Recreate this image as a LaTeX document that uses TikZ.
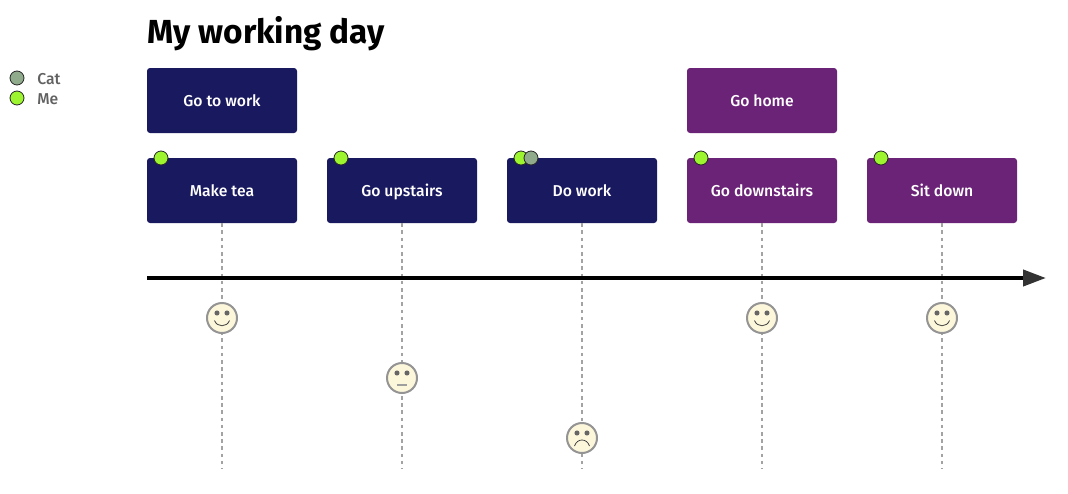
\documentclass[tikz,border=0pt]{standalone}
\usepackage{fontspec}
\setmainfont{Fira Sans}[BoldFont={Fira Sans Bold}]
\newfontfamily\medfont{Fira Sans Medium}
\usetikzlibrary{arrows.meta,calc}
\definecolor{navyb}{HTML}{191960}
\definecolor{purpb}{HTML}{6B2377}
\definecolor{catc}{HTML}{8FAB8B}
\definecolor{mec}{HTML}{9DF52F}
\definecolor{facec}{HTML}{FCF6DB}
\definecolor{headc}{HTML}{333333}
\tikzset{
  x=.75pt,y=-.75pt,
  taskbox/.style={minimum width=112.5pt,minimum height=48.75pt,inner sep=0pt,rounded corners=2.25pt,text=white,text height=9.5pt,text depth=0.9pt,font=\medfont\fontsize{11.8}{13}\selectfont},
  navybox/.style={taskbox,fill=navyb},
  purpbox/.style={taskbox,fill=purpb},
  actor/.style={circle,minimum size=10.5pt,inner sep=0pt,draw=black!85,line width=.6pt},
  catdot/.style={actor,fill=catc},
  medot/.style={actor,fill=mec},
  legendtext/.style={anchor=base west,inner sep=0pt,text=black!62,font=\medfont\fontsize{11.8}{13}\selectfont},
  facenode/.style={circle,minimum size=22.5pt,inner sep=0pt,draw=black!42,line width=1.5pt,fill=facec},
  eye/.style={fill=black!60,draw=none},
  mouth/.style={draw=black!75,line width=.6pt},
  vline/.style={draw=black!36,line width=1.2pt,dash pattern=on 2.7pt off 2.7pt},
  axisline/.style={draw=black,line width=3pt,-{Triangle[length=17.25pt,width=12pt,color=headc,fill=headc]}},
}
\newcommand{\faceeyes}[1]{%
  \fill[eye] ($(#1)+(-5,-5)$) circle (1.9pt);
  \fill[eye] ($(#1)+(5,-5)$) circle (1.9pt);}
\begin{document}
\begin{tikzpicture}
\useasboundingbox (0,0) rectangle (1068,493);
\node[anchor=base west,inner sep=0pt,font=\fontsize{25}{29}\selectfont\bfseries] (title) at (147,43) {My working day};
% section row
\node[navybox] (gowork) at (222,100.5) {Go to work};
\node[purpbox] (gohome) at (762,100.5) {Go home};
% tasks
\node[navybox] (tea) at (222,190.5) {Make tea};
\node[navybox] (up) at (402,190.5) {Go upstairs};
\node[navybox] (work) at (582,190.5) {Do work};
\node[purpbox] (down) at (762,190.5) {Go downstairs};
\node[purpbox] (sit) at (942,190.5) {Sit down};
% bottom ends
\coordinate (e1) at (222,469);
\coordinate (e2) at (402,469);
\coordinate (e3) at (582,469);
\coordinate (e4) at (762,469);
\coordinate (e5) at (942,469);
\draw[vline] (tea.south) -- (e1);
\draw[vline] (up.south) -- (e2);
\draw[vline] (work.south) -- (e3);
\draw[vline] (down.south) -- (e4);
\draw[vline] (sit.south) -- (e5);
% axis
\coordinate (axs) at (147,278);
\coordinate (axe) at (1046,278);
\draw[axisline] (axs) -- (axe);
% faces
\node[facenode] (f1) at (222,318) {};
\node[facenode] (f2) at (402,378) {};
\node[facenode] (f3) at (582,438) {};
\node[facenode] (f4) at (762,318) {};
\node[facenode] (f5) at (942,318) {};
\foreach \f in {f1,f2,f3,f4,f5}{\faceeyes{\f}}
\foreach \f in {f1,f4,f5}{\draw[mouth] ($(\f)+(-7.5,2.5)$) .. controls ($(\f)+(-5,9.5)$) and ($(\f)+(5,9.5)$) .. ($(\f)+(7.5,2.5)$);}
\draw[draw=black!38,line width=.9pt] ($(f2)+(-5,7)$) -- ($(f2)+(5,7)$);
\draw[mouth] ($(f3)+(-7.5,8)$) .. controls ($(f3)+(-5,0)$) and ($(f3)+(5,0)$) .. ($(f3)+(7.5,8)$);
% actors
\node[medot] (a1) at (161,158) {};
\node[medot] (a2) at (341,158) {};
\node[medot] (a3) at (521,158) {};
\node[catdot] (a4) at (531,158) {};
\node[medot] (a5) at (701,158) {};
\node[medot] (a6) at (881,158) {};
% legend
\node[catdot] (lc) at (17,78) {};
\node[medot] (lm) at (17,98) {};
\node[legendtext] (lct) at (37,84.3) {Cat};
\node[legendtext] (lmt) at (37,104.3) {Me};
\end{tikzpicture}
\end{document}
